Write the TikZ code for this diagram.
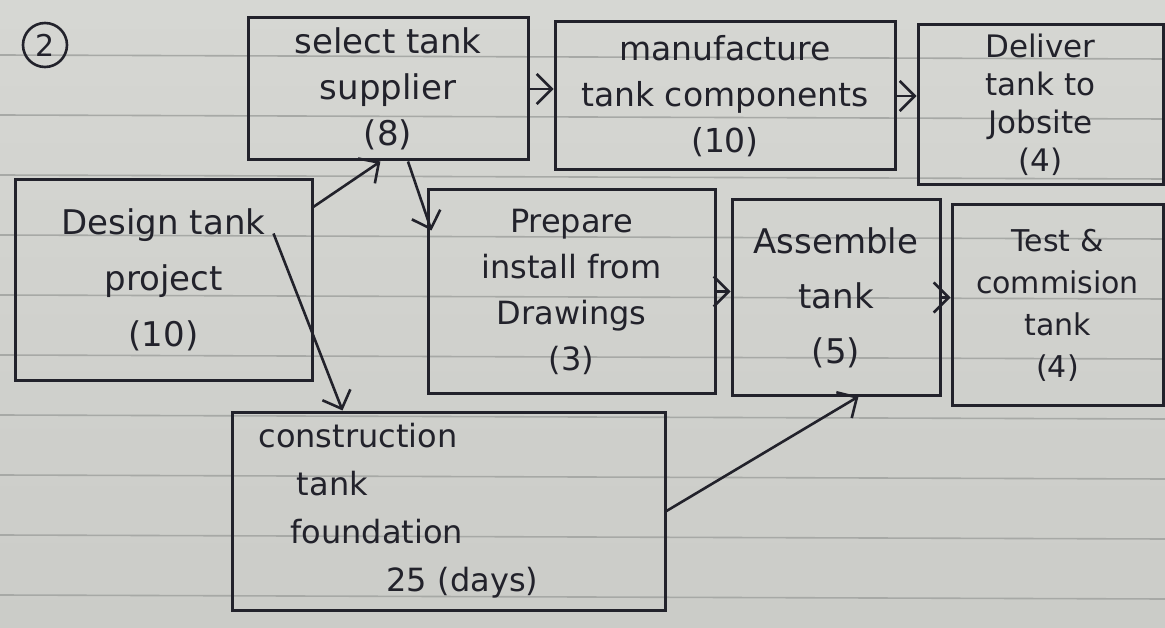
\documentclass[tikz,border=0pt]{standalone}
\usepackage{fontspec}
\setmainfont{DejaVu Sans}
\usetikzlibrary{arrows.meta,calc}
\definecolor{paper}{HTML}{CBCCC8}
\definecolor{papertop}{HTML}{D6D7D3}
\definecolor{rulecol}{HTML}{A7A9A6}
\definecolor{ink}{HTML}{22222B}
\newcommand\hwsize[2]{\fontsize{#1}{#2}\selectfont}
\begin{document}
\begin{tikzpicture}[x=1pt,y=-1pt,
  box/.style={draw=ink, line width=3pt, text=ink, align=center, inner sep=0pt},
  arr/.style={draw=ink, line width=2.6pt, -{Straight Barb[length=15pt,width=30pt,line width=2.6pt]}},
  ruled/.style={draw=rulecol, line width=1.6pt}]
\useasboundingbox (0,0) rectangle (1165,628);
\shade[top color=papertop, bottom color=paper] (0,0) rectangle (1165,628);
\foreach \y in {55,115,175,235,295,355,415,475,535,595}
  \draw[ruled] (0,\y) -- (1165,\y+4);

\node[draw=ink, circle, line width=2.6pt, minimum size=44pt, inner sep=0pt, text=ink, font=\hwsize{30}{30}] (num) at (45,45) {2};

\node[box, minimum width=280pt, minimum height=142pt, font=\hwsize{34}{46}] (select) at (388,89) {select tank\\supplier\\(8)};
\node[box, minimum width=340pt, minimum height=148pt, font=\hwsize{33}{46}] (manu) at (725,96) {manufacture\\tank components\\(10)};
\node[box, minimum width=245pt, minimum height=160pt, font=\hwsize{31}{38}] (deliver) at (1040.5,105) {Deliver\\tank to\\Jobsite\\(4)};
\node[box, minimum width=297pt, minimum height=200pt, font=\hwsize{34}{56}] (design) at (163.5,280) {Design tank\\project\\(10)};
\node[box, minimum width=287pt, minimum height=203pt, font=\hwsize{32}{46}] (prep) at (571.5,291.5) {Prepare\\install from\\Drawings\\(3)};
\node[box, minimum width=208pt, minimum height=195pt, font=\hwsize{34}{55}] (asm) at (836,297.5) {Assemble\\tank\\(5)};
\node[box, minimum width=211pt, minimum height=200pt, font=\hwsize{30}{42}] (test) at (1057.5,305) {Test \&\\commision\\tank\\(4)};
\node[box, minimum width=433pt, minimum height=198pt, text width=380pt, align=left, font=\hwsize{32}{48}] (cons) at (448.5,511) {construction\\\hspace*{1.2em}tank\\\hspace*{1.0em}foundation\\\hspace*{4em}25 (days)};

\draw[arr] (design.26) -- (select.-96);
\draw[arr] ($(design.north east)+(-40,55)$) -- ($(cons.north west)+(112,0)$);
\draw[arr] ($(select.south)+(20,0)$) -- ($(prep.north west)+(5,42)$);
\draw[arr] (select.east) -- (select.east -| manu.west);
\draw[arr] (manu.east) -- (manu.east -| deliver.west);
\draw[arr] (prep.east) -- (prep.east -| asm.west);
\draw[arr] (asm.east) -- (asm.east -| test.west);
\draw[arr] (cons.east) -- ($(asm.south west)+(128,0)$);
\end{tikzpicture}
\end{document}
